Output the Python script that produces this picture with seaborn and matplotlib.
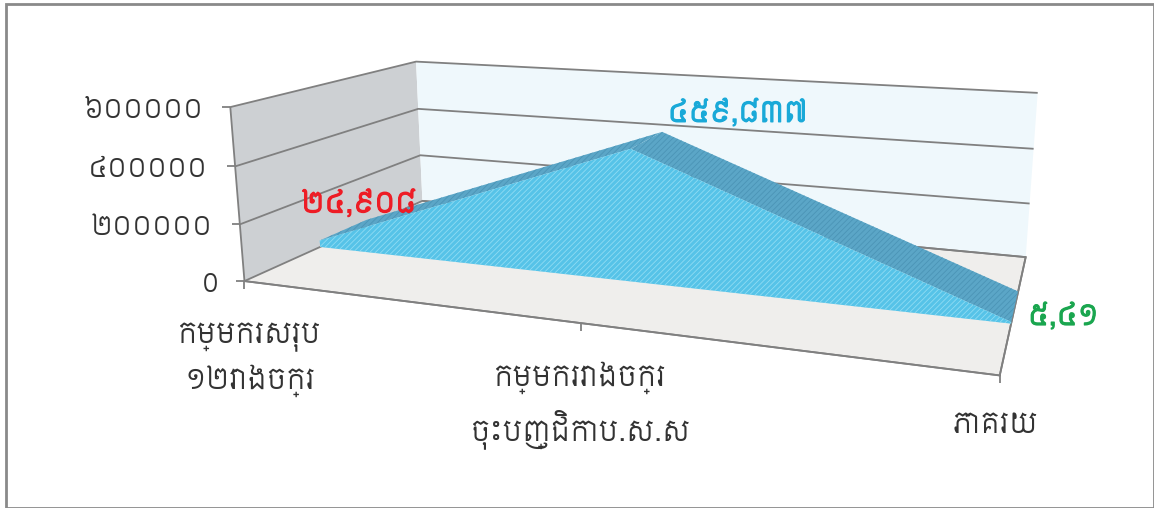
import matplotlib
matplotlib.use('Agg')
import matplotlib.pyplot as plt
import matplotlib.patheffects as pe
from matplotlib.markers import TICKDOWN, TICKLEFT
from matplotlib.patches import Rectangle
from mpl_toolkits.mplot3d.art3d import Poly3DCollection
from mpl_toolkits.mplot3d import proj3d
import seaborn as sns

# data
categories = ['កម្មករសរុប\n១២រោងចក្រ', 'កម្មកររោងចក្រ\nចុះបញ្ជិកាប.ស.ស', 'ភាគរយ']
values = [24908, 459837, 5410]
value_labels = ['២៤,៩០៨', '៤៥៩,៨៣៧', '៥,៤១']
label_colors = ['#ee1c25', '#19a9d8', '#1aa64f']
label_offsets = [(39, 36), (107, 35), (52, 5)]
x_label_offsets = [(5, -42), (0, -38), (-4, -36)]
z_ticks = [0, 200000, 400000, 600000]
z_labels = ['0', '២០០០០០', '៤០០០០០', '៦០០០០០']

sns.set_theme(style='white')
plt.rcParams['font.family'] = ['Siemreap', 'DejaVu Sans']
plt.rcParams['hatch.linewidth'] = 0.6

fig = plt.figure(figsize=(11.54, 5.08), dpi=100)
S = 1200
ax = fig.add_axes([(577 - S / 2 + 53.511) / 1154, (254 - S / 2 + 52.154) / 508, S / 1154, S / 508],
                  projection='3d', computed_zorder=False)
ax.patch.set_alpha(0)
ax.set_xlim(0, 2, view_margin=0)
ax.set_ylim(0, 1, view_margin=0)
ax.set_zlim(0, 600000, view_margin=0)
ax.view_init(13.399, -69.972, 0.095)
ax.set_proj_type('persp', focal_length=0.189)
ax.set_box_aspect((4.140, 1.983, 1), zoom=0.660)

# walls and floor
grey = '#808080'
ax.xaxis.set_pane_color('#cdd0d3')
ax.yaxis.set_pane_color('#eff8fc')
ax.zaxis.set_pane_color('#efeeec')
ax.zaxis.pane.set_edgecolor(grey)
ax.zaxis.pane.set_linewidth(1.3)
ax.xaxis.pane.set_edgecolor('none')
ax.yaxis.pane.set_edgecolor('none')

ax.grid(True)
for axis in (ax.xaxis, ax.yaxis):
    axis._axinfo['grid']['linewidth'] = 0
ax.zaxis._axinfo['grid'].update(color=grey, linewidth=1.3, linestyle='-')
for axis in (ax.xaxis, ax.yaxis, ax.zaxis):
    axis.line.set_color(grey)
    axis.line.set_linewidth(1.3)
    axis._axinfo['tick'].update(inward_factor=0, outward_factor=0)
ax.zaxis.set_ticks_position('lower')
ax.set_yticks([])
xs = list(range(len(values)))
ax.set_xticks(xs, [''] * len(xs))
ax.set_zticks(z_ticks, [''] * len(z_ticks))

# 3d ticks follow the depth axis, the reference has them straight down and left
ax.plot(xs, [0] * len(xs), [0] * len(xs), ls='none', marker=TICKDOWN, ms=6, mew=1.3, color=grey, zorder=2)
ax.plot([0] * len(z_ticks), [0] * len(z_ticks), z_ticks, ls='none', marker=TICKLEFT, ms=6, mew=1.3,
        color=grey, zorder=2)

# mplot3d keeps resetting tick label transforms, so the labels go on as annotations
M = ax.get_proj()


def place(s, x, y, z, off, **kw):
    px, py, _ = proj3d.proj_transform(x, y, z, M)
    return ax.annotate(s, xy=(px, py), xytext=off, textcoords='offset pixels', **kw)


for x, s, off in zip(xs, categories, x_label_offsets):
    place(s, x, 0, 0, off, ha='center', va='top', fontsize=20.5, color='#333333', linespacing=1.5)
for v, s in zip(z_ticks, z_labels):
    place(s, 0, 0, v, (-27, -4), ha='right', va='center', fontsize=19, color='#333333')

# the area band, front face and sloped top
d0, d1 = 0.37, 0.635
front = [(x, d0, v) for x, v in zip(xs, values)] + [(xs[-1], d0, 0), (xs[0], d0, 0)]
top = [[(xs[i], d0, values[i]), (xs[i + 1], d0, values[i + 1]),
        (xs[i + 1], d1, values[i + 1]), (xs[i], d1, values[i])] for i in range(len(xs) - 1)]
ax.add_collection3d(Poly3DCollection(top, facecolor='#5ba6c7', edgecolor='#4b94b6', hatch='//////',
                                     linewidth=0, zorder=3))
ax.add_collection3d(Poly3DCollection([front], facecolor='#56c3e8', edgecolor='#8fdcf3', hatch='//////',
                                     linewidth=0, zorder=4))

# data labels
for x, v, s, c, off in zip(xs, values, value_labels, label_colors, label_offsets):
    place(s, x, d0, v, off, ha='center', va='center', color=c, fontsize=20, zorder=6,
          path_effects=[pe.withStroke(linewidth=0.9, foreground=c)])

# frame of the picture
fig.add_artist(Rectangle((6 / 1154, 0.5 / 508), 1147.5 / 1154, 503.5 / 508, transform=fig.transFigure,
                         fill=False, edgecolor='#8a8a8a', linewidth=2))

fig.savefig('out.png', dpi=100)
